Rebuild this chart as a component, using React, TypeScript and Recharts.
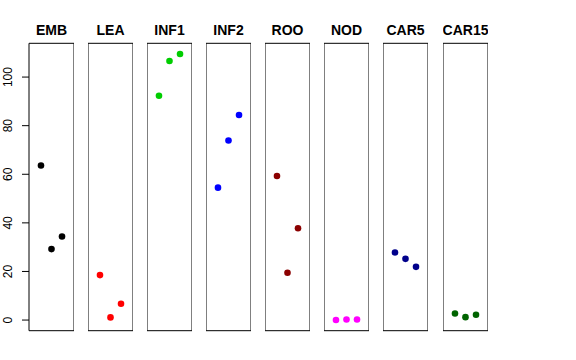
import { ScatterChart, Scatter, XAxis, YAxis, ReferenceArea } from 'recharts'

const panels = ['EMB', 'LEA', 'INF1', 'INF2', 'ROO', 'NOD', 'CAR5', 'CAR15']
const colors = ['#000000', '#ff0000', '#00cd00', '#0000ff', '#8b0000', '#ff00ff', '#00008b', '#006400']

const emb = [63.6, 29.2, 34.4]
const lea = [18.5, 1.1, 6.7]
const inf1 = [92.3, 106.6, 109.5]
const inf2 = [54.5, 73.9, 84.4]
const roo = [59.3, 19.5, 37.8]
const nod = [0.0, 0.2, 0.2]
const car5 = [27.8, 25.2, 21.9]
const car15 = [2.7, 1.2, 2.2]
const values = [emb, lea, inf1, inf2, roo, nod, car5, car15]

const yTicks = [0, 20, 40, 60, 80, 100]
const yDomain: [number, number] = [-4.38, 113.9]
const xDomain: [number, number] = [-0.14, 4.14]

const font = '"Liberation Sans", Arial, Helvetica, sans-serif'
const PANEL_W = 45
const PITCH = 59.08
const FIRST_LEFT = 29
const AXIS_W = 29
const margin = { top: 43.3, bottom: 29.3, left: 0, right: 0 }

function YTick({ x, y, payload }: { x: number; y: number; payload: { value: number } }) {
  const tx = x - 8
  return (
    <text
      x={tx}
      y={y}
      transform={`rotate(-90, ${tx}, ${y})`}
      textAnchor="middle"
      fontSize={12}
      fontFamily={font}
      fill="#000"
    >
      {payload.value}
    </text>
  )
}

function Panel({ index }: { index: number }) {
  const first = index === 0
  const data = values[index].map((v, i) => ({ x: i + 1, y: v }))
  const color = colors[index]
  const left = first ? 0 : FIRST_LEFT + PITCH * index
  return (
    <div style={{ position: 'absolute', left, top: 0 }}>
      <ScatterChart width={first ? PANEL_W + AXIS_W : PANEL_W} height={360} margin={margin}>
        <XAxis type="number" dataKey="x" domain={xDomain} hide />
        <YAxis
          type="number"
          dataKey="y"
          domain={yDomain}
          ticks={yTicks}
          hide={!first}
          width={AXIS_W}
          tickSize={7}
          tick={YTick}
          axisLine={false}
          tickLine={{ stroke: '#000' }}
        />
        <ReferenceArea
          x1={xDomain[0]}
          x2={xDomain[1]}
          y1={yDomain[0]}
          y2={yDomain[1]}
          fill="none"
          stroke="#000"
          strokeWidth={1}
          ifOverflow="visible"
          label={{
            value: panels[index],
            position: 'top',
            offset: 8,
            fontSize: 14,
            fontWeight: 'bold',
            fontFamily: font,
            fill: '#000',
          }}
        />
        <Scatter
          data={data}
          isAnimationActive={false}
          shape={(p: { cx?: number; cy?: number }) => <circle cx={p.cx} cy={p.cy} r={3.3} fill={color} />}
        />
      </ScatterChart>
    </div>
  )
}

export default function App() {
  return (
    <div style={{ position: 'absolute', left: 0, top: 0, width: 576, height: 360, background: '#fff' }}>
      {panels.map((_, i) => (
        <Panel key={panels[i]} index={i} />
      ))}
    </div>
  )
}
